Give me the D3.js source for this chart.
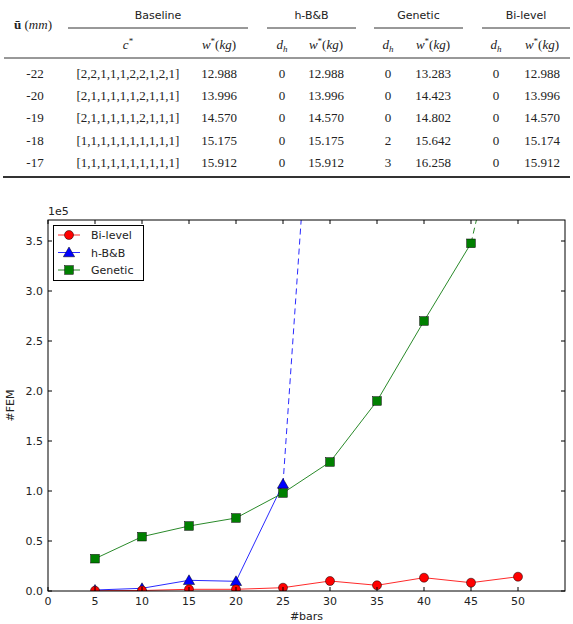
<!DOCTYPE html>
<html><head><meta charset="utf-8">
<script src="https://cdn.jsdelivr.net/npm/d3@7/dist/d3.min.js"></script>
<style>body{margin:0;background:#fff}svg{display:block}</style>
</head><body>
<svg id="c" width="573" height="624"></svg>
<script>
// ---------- table data ----------
const uBar = ["-22","-20","-19","-18","-17"];
const cStar = ["[2,2,1,1,1,2,2,1,2,1]","[2,1,1,1,1,1,2,1,1,1]","[2,1,1,1,1,1,2,1,1,1]","[1,1,1,1,1,1,1,1,1,1]","[1,1,1,1,1,1,1,1,1,1]"];
const baselineW = ["12.988","13.996","14.570","15.175","15.912"];
const hbbD = ["0","0","0","0","0"];
const hbbW = ["12.988","13.996","14.570","15.175","15.912"];
const genD = ["0","0","0","2","3"];
const genW = ["13.283","14.423","14.802","15.642","16.258"];
const biD = ["0","0","0","0","0"];
const biW = ["12.988","13.996","14.570","15.174","15.912"];
const groupNames = ["Baseline","h-B&B","Genetic","Bi-level"];

// ---------- chart data ----------
const bars = [5,10,15,20,25,30,35,40,45,50];
const bilevelFEM = [300,500,1700,1700,3300,10000,5700,13300,8300,14300];
const hbbBars = [5,10,15,20,25];
const hbbFEM = [1000,2700,10700,9700,107000];
const hbbExtBars = [25,30];
const hbbExtFEM = [107000,790000];
const geneticBars = [5,10,15,20,25,30,35,40,45];
const geneticFEM = [32300,54300,65000,73000,98000,129000,190000,270000,347700];
const genExtBars = [45,50];
const genExtFEM = [347700,550000];
const xTicks = [0,5,10,15,20,25,30,35,40,45,50];
const yTicks = [0,0.5,1.0,1.5,2.0,2.5,3.0,3.5];

const svg = d3.select("#c");
const serif = "'Liberation Serif','DejaVu Serif',serif";
const sans = "'DejaVu Sans',sans-serif";

// ---------- table ----------
const T = svg.append("g");
const groups = [{x0:68,x1:248},{x0:267,x1:356},{x0:374,x1:463},{x0:482,x1:570}];
groups.forEach((g,i)=>{
  T.append("text").attr("x",(g.x0+g.x1)/2).attr("y",19).attr("text-anchor","middle")
   .attr("font-family",sans).attr("font-size",11).attr("fill","#222").text(groupNames[i]);
  T.append("line").attr("x1",g.x0).attr("x2",g.x1).attr("y1",28).attr("y2",28)
   .attr("stroke","#333").attr("stroke-width",1);
});
const uh = T.append("text").attr("x",33).attr("y",29).attr("text-anchor","middle")
  .attr("font-family",serif).attr("font-size",13).attr("fill","#222");
uh.append("tspan").attr("font-weight","bold").text("ū");
uh.append("tspan").text(" (");
uh.append("tspan").attr("font-style","italic").text("mm");
uh.append("tspan").text(")");

const colX = {u:35,c:128,bw:219,hd:282,hw:326,gd:388,gw:433,bd:496,biw:542};
function wHeader(x){
  const t = T.append("text").attr("x",x).attr("y",49).attr("text-anchor","middle")
    .attr("font-family",serif).attr("font-size",13).attr("fill","#222");
  t.append("tspan").attr("font-style","italic").text("w");
  t.append("tspan").attr("font-size",9).attr("dy",-5).text("*");
  t.append("tspan").attr("dy",5).text("(");
  t.append("tspan").attr("font-style","italic").text("kg");
  t.append("tspan").text(")");
}
function dHeader(x){
  const t = T.append("text").attr("x",x).attr("y",49).attr("text-anchor","middle")
    .attr("font-family",serif).attr("font-size",13).attr("fill","#222");
  t.append("tspan").attr("font-style","italic").text("d");
  t.append("tspan").attr("font-style","italic").attr("font-size",9).attr("dy",3).text("h");
}
{
  const t = T.append("text").attr("x",colX.c).attr("y",49).attr("text-anchor","middle")
    .attr("font-family",serif).attr("font-size",13).attr("fill","#222");
  t.append("tspan").attr("font-style","italic").text("c");
  t.append("tspan").attr("font-size",9).attr("dy",-5).text("*");
}
wHeader(colX.bw); dHeader(colX.hd); wHeader(colX.hw); dHeader(colX.gd); wHeader(colX.gw); dHeader(colX.bd); wHeader(colX.biw);
T.append("line").attr("x1",4).attr("x2",570).attr("y1",58).attr("y2",58).attr("stroke","#333").attr("stroke-width",1);
const cols = [[uBar,colX.u],[cStar,colX.c],[baselineW,colX.bw],[hbbD,colX.hd],[hbbW,colX.hw],[genD,colX.gd],[genW,colX.gw],[biD,colX.bd],[biW,colX.biw]];
uBar.forEach((_,r)=>{
  const y = 78 + r*22.2;
  cols.forEach(([arr,x])=>{
    T.append("text").attr("x",x).attr("y",y).attr("text-anchor","middle")
      .attr("font-family",serif).attr("font-size",13).attr("fill","#222").text(arr[r]);
  });
});
T.append("line").attr("x1",3).attr("x2",570).attr("y1",177).attr("y2",177).attr("stroke","#333").attr("stroke-width",2);

// ---------- chart ----------
const L=48, R=565, Tp=220, B=591;
const x = d3.scaleLinear().domain([0,55]).range([L,R]);
const y = d3.scaleLinear().domain([0,3.71e5]).range([B,Tp]);
const C = svg.append("g");
C.append("defs").append("clipPath").attr("id","clip").append("rect")
  .attr("x",L).attr("y",Tp).attr("width",R-L).attr("height",B-Tp);

const line = d3.line().x(d=>x(d[0])).y(d=>y(d[1]));
const zip=(a,b)=>a.map((v,i)=>[v,b[i]]);
const P = C.append("g").attr("clip-path","url(#clip)");

P.append("path").attr("d",line(zip(hbbExtBars,hbbExtFEM))).attr("fill","none")
  .attr("stroke","#2a2aff").attr("stroke-width",1).attr("stroke-dasharray","6,4");
P.append("path").attr("d",line(zip(genExtBars,genExtFEM))).attr("fill","none")
  .attr("stroke","#2a8a2a").attr("stroke-width",1).attr("stroke-dasharray","6,4");
P.append("path").attr("d",line(zip(bars,bilevelFEM))).attr("fill","none").attr("stroke","#ff2a2a").attr("stroke-width",1);
P.append("path").attr("d",line(zip(hbbBars,hbbFEM))).attr("fill","none").attr("stroke","#2a2aff").attr("stroke-width",1);
P.append("path").attr("d",line(zip(geneticBars,geneticFEM))).attr("fill","none").attr("stroke","#2a8a2a").attr("stroke-width",1);

const tri = d3.symbol().type(d3.symbolTriangle).size(55);
function markers(g,data,kind,color){
  data.forEach(([a,b])=>{
    const cx=x(a), cy=y(b);
    if(kind==="circle") g.append("circle").attr("cx",cx).attr("cy",cy).attr("r",4.5)
      .attr("fill",color).attr("stroke","#000").attr("stroke-width",0.5);
    else if(kind==="square") g.append("rect").attr("x",cx-4.3).attr("y",cy-4.3).attr("width",8.6).attr("height",8.6)
      .attr("fill",color).attr("stroke","#000").attr("stroke-width",0.5);
    else g.append("path").attr("d",tri()).attr("transform",`translate(${cx},${cy+1})`)
      .attr("fill",color).attr("stroke","#000").attr("stroke-width",0.5);
  });
}
markers(P,zip(geneticBars,geneticFEM),"square","#008000");
markers(P,zip(hbbBars,hbbFEM),"tri","#0000ff");
markers(P,zip(bars,bilevelFEM),"circle","#ff0000");

C.append("rect").attr("x",L).attr("y",Tp).attr("width",R-L).attr("height",B-Tp)
  .attr("fill","none").attr("stroke","#000").attr("stroke-width",1);
xTicks.forEach(t=>{
  C.append("line").attr("x1",x(t)).attr("x2",x(t)).attr("y1",B).attr("y2",B-4).attr("stroke","#000");
  C.append("line").attr("x1",x(t)).attr("x2",x(t)).attr("y1",Tp).attr("y2",Tp+4).attr("stroke","#000");
  C.append("text").attr("x",x(t)).attr("y",B+14).attr("text-anchor","middle")
    .attr("font-family",sans).attr("font-size",11).attr("fill","#222").text(t);
});
yTicks.forEach(t=>{
  const yy=y(t*1e5);
  C.append("line").attr("x1",L).attr("x2",L+4).attr("y1",yy).attr("y2",yy).attr("stroke","#000");
  C.append("line").attr("x1",R).attr("x2",R-4).attr("y1",yy).attr("y2",yy).attr("stroke","#000");
  C.append("text").attr("x",L-5).attr("y",yy+4).attr("text-anchor","end")
    .attr("font-family",sans).attr("font-size",11).attr("fill","#222").text(t.toFixed(1));
});
C.append("text").attr("x",L).attr("y",Tp-5).attr("font-family",sans).attr("font-size",11).attr("fill","#222").text("1e5");
C.append("text").attr("x",(L+R)/2).attr("y",B+29).attr("text-anchor","middle")
  .attr("font-family",sans).attr("font-size",11).attr("fill","#222").text("#bars");
C.append("text").attr("transform",`translate(14,${(Tp+B)/2}) rotate(-90)`).attr("text-anchor","middle")
  .attr("font-family",sans).attr("font-size",11).attr("fill","#222").text("#FEM");

const Lg = C.append("g");
Lg.append("rect").attr("x",53.5).attr("y",225.5).attr("width",90).attr("height",55)
  .attr("fill","#fff").attr("stroke","#000").attr("stroke-width",1);
const legItems = [["Bi-level","#ff0000","circle"],["h-B&B","#0000ff","tri"],["Genetic","#008000","square"]];
const legLine = {"#ff0000":"#ff2a2a","#0000ff":"#2a2aff","#008000":"#2a8a2a"};
legItems.forEach(([name,color,kind],i)=>{
  const yy = 235 + i*17.5;
  Lg.append("line").attr("x1",58).attr("x2",80).attr("y1",yy).attr("y2",yy).attr("stroke",legLine[color]).attr("stroke-width",1);
  const g = Lg.append("g");
  if(kind==="circle") g.append("circle").attr("cx",69).attr("cy",yy).attr("r",4.5).attr("fill",color).attr("stroke","#000").attr("stroke-width",0.5);
  else if(kind==="square") g.append("rect").attr("x",69-4.3).attr("y",yy-4.3).attr("width",8.6).attr("height",8.6).attr("fill",color).attr("stroke","#000").attr("stroke-width",0.5);
  else g.append("path").attr("d",tri()).attr("transform",`translate(69,${yy+1})`).attr("fill",color).attr("stroke","#000").attr("stroke-width",0.5);
  Lg.append("text").attr("x",91).attr("y",yy+4).attr("font-family",sans).attr("font-size",11).attr("fill","#222").text(name);
});
</script>
</body></html>
